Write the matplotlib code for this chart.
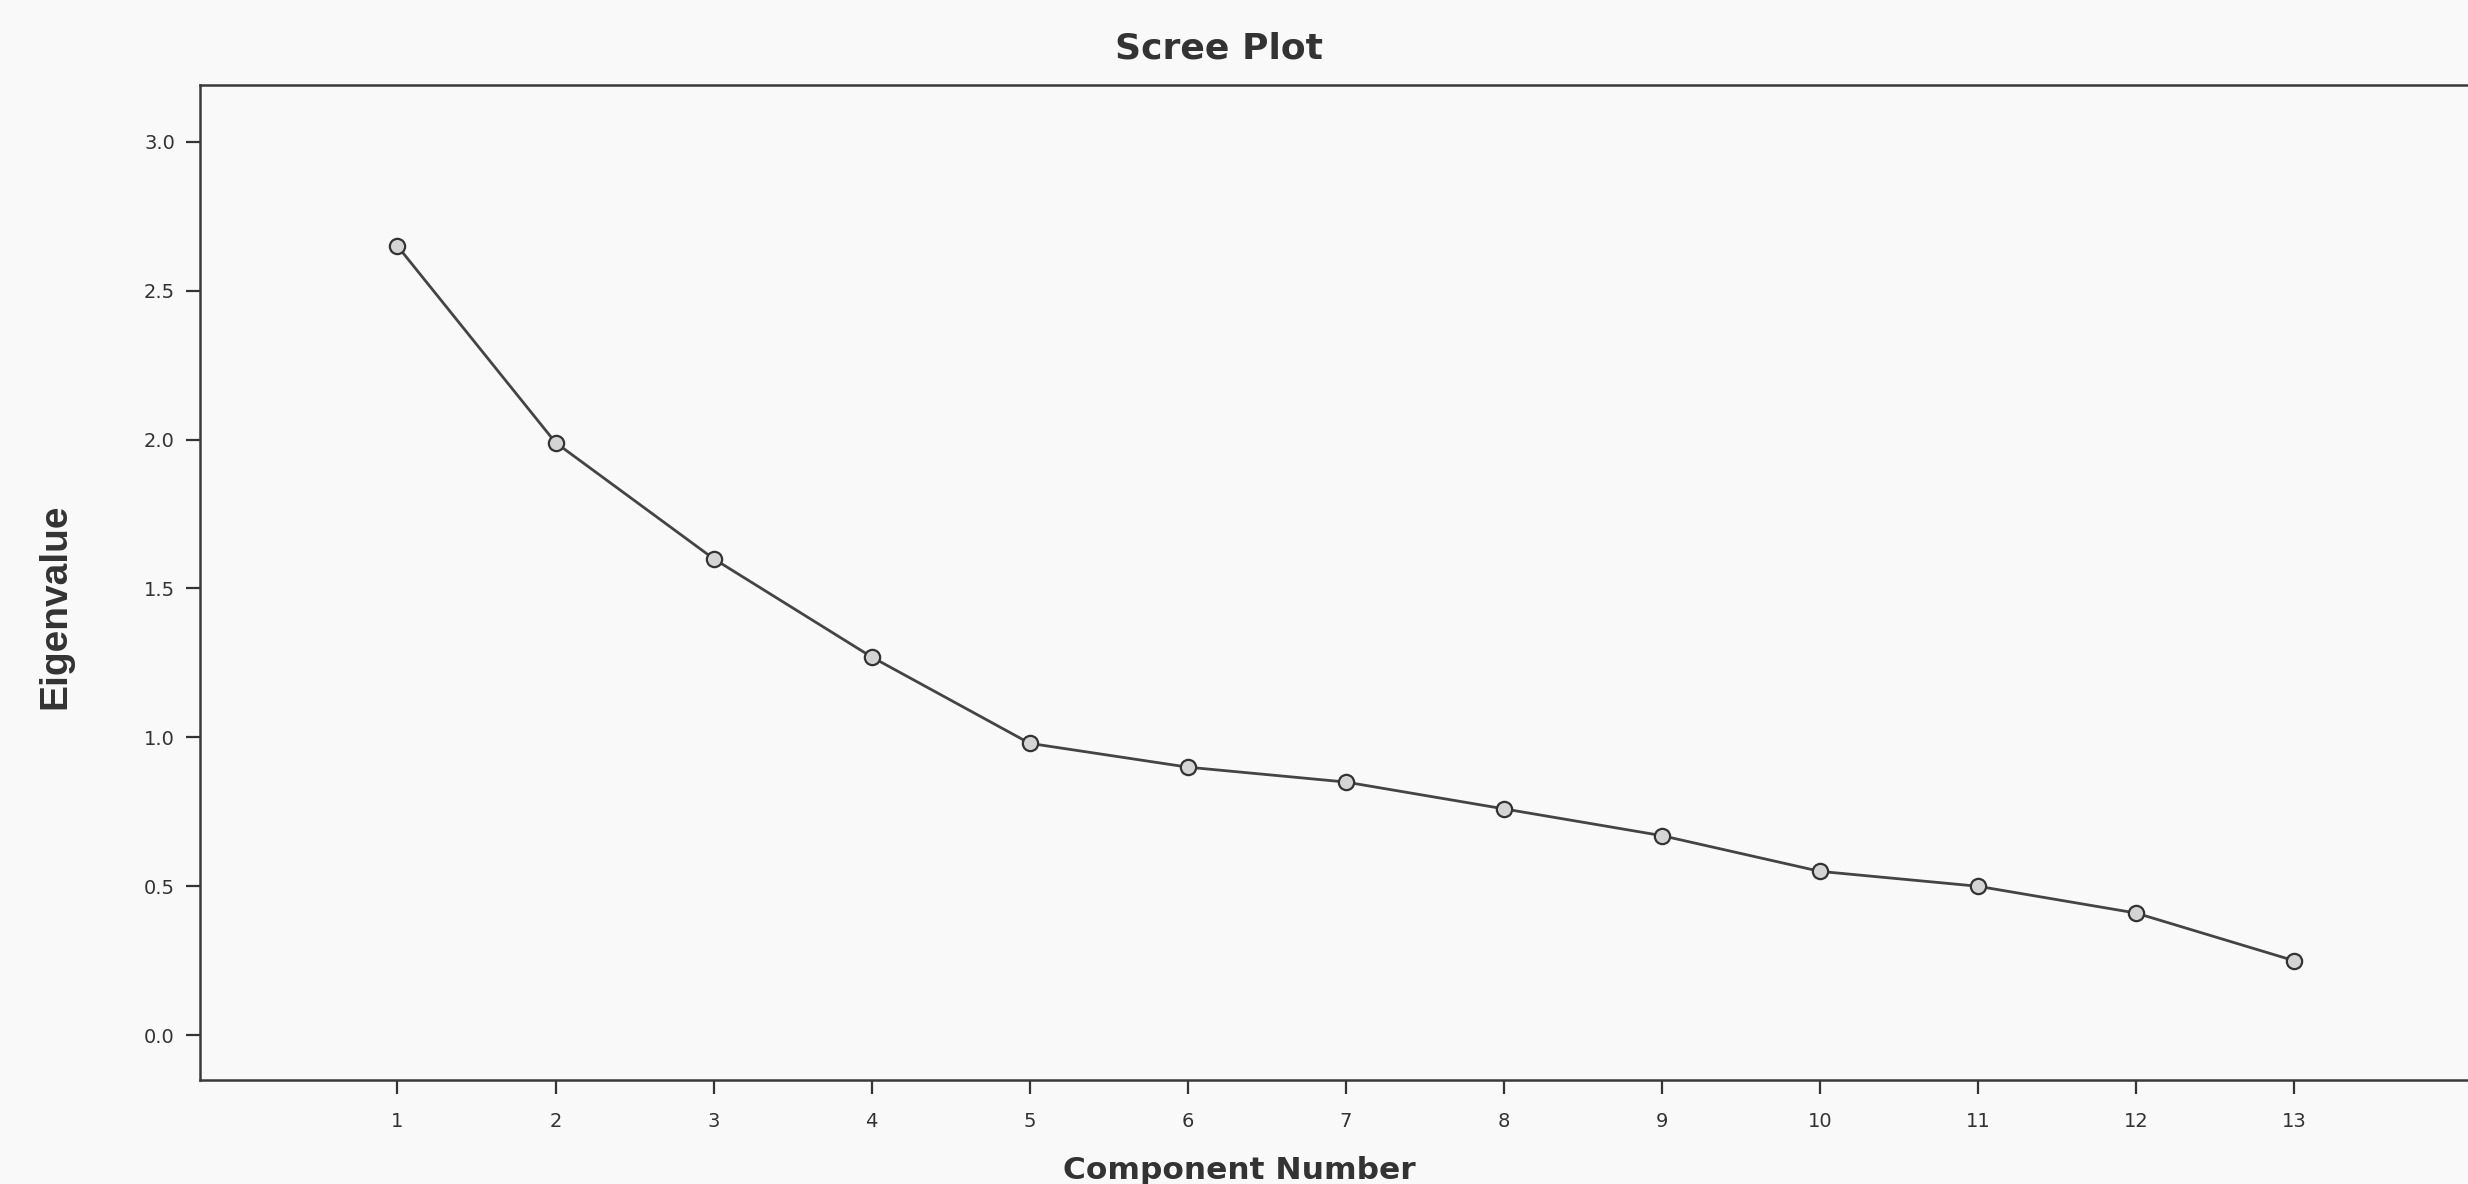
import matplotlib
matplotlib.use("Agg")
import matplotlib.pyplot as plt

components = [1, 2, 3, 4, 5, 6, 7, 8, 9, 10, 11, 12, 13]
eigenvalues = [2.65, 1.99, 1.60, 1.27, 0.98, 0.90, 0.85, 0.76, 0.67, 0.55, 0.50, 0.41, 0.25]
y_ticks = [0.0, 0.5, 1.0, 1.5, 2.0, 2.5, 3.0]
y_tick_labels = ["0.0", "0.5", "1.0", "1.5", "2.0", "2.5", "3.0"]

plt.rcParams['font.family'] = ['DejaVu Sans']
ink = '#333333'

fig = plt.figure(figsize=(24.68, 11.84), dpi=100, facecolor='#f9f9f9')
ax = fig.add_axes([0.081, 0.088, 0.919, 0.84])
ax.set_facecolor('#f9f9f9')

ax.plot(components, eigenvalues, color='#444444', linewidth=2.0,
        marker='o', markersize=11, markerfacecolor='#d4d4d4',
        markeredgecolor='#333333', markeredgewidth=1.6)

ax.set_xlim(-0.25, 14.1)
ax.set_ylim(-0.15, 3.19)
ax.set_xticks(components)
ax.set_xticklabels([str(c) for c in components])
ax.set_yticks(y_ticks)
ax.set_yticklabels(y_tick_labels)

ax.tick_params(axis='both', direction='out', length=10, width=1.6,
               colors=ink, labelsize=14, pad=8)
ax.tick_params(axis='x', pad=13)

for side in ['left', 'bottom', 'top']:
    ax.spines[side].set_color('#3a3a3a')
    ax.spines[side].set_linewidth(1.8)
ax.spines['right'].set_visible(False)

fig.text(0.494, 0.959, 'Scree Plot', fontsize=26, fontweight='bold',
         color=ink, ha='center', va='center')
fig.text(0.502, 0.011, 'Component Number', fontsize=22.5, fontweight='bold',
         color=ink, ha='center', va='center')
fig.text(0.0225, 0.488, 'Eigenvalue', fontsize=28, fontweight='bold',
         family=['Liberation Sans Narrow', 'Liberation Sans'],
         color=ink, ha='center', va='center', rotation=90)

fig.savefig('out.png', dpi=100, facecolor=fig.get_facecolor())
